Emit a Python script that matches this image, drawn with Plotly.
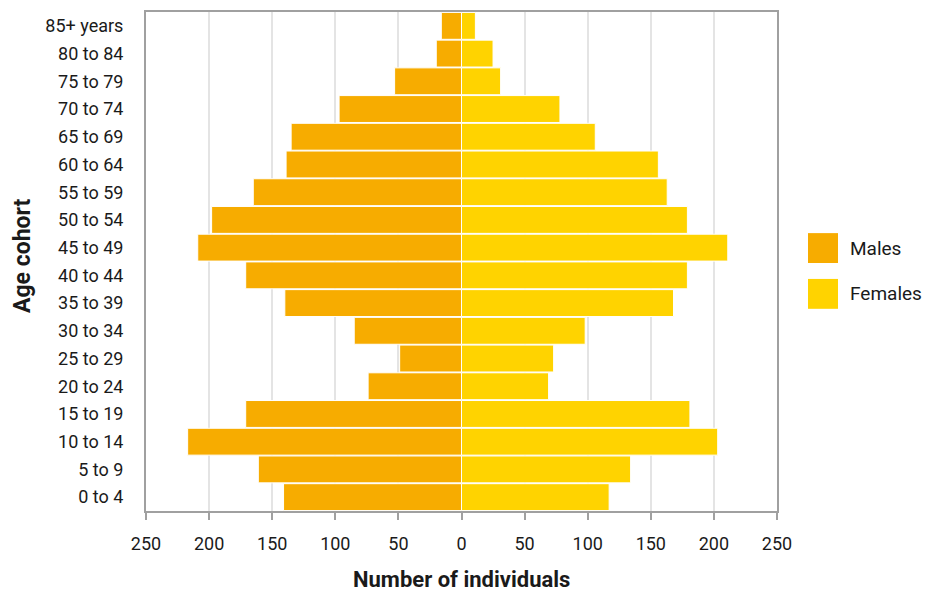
import plotly.graph_objects as go

# Age pyramid: number of individuals by five-year cohort
age_groups = ["0 to 4", "5 to 9", "10 to 14", "15 to 19", "20 to 24", "25 to 29",
              "30 to 34", "35 to 39", "40 to 44", "45 to 49", "50 to 54", "55 to 59",
              "60 to 64", "65 to 69", "70 to 74", "75 to 79", "80 to 84", "85+ years"]
males = [141, 161, 217, 171, 74, 49, 85, 140, 171, 209, 198, 165, 139, 135, 97, 53, 20, 16]
females = [117, 134, 203, 181, 69, 73, 98, 168, 179, 211, 179, 163, 156, 106, 78, 31, 25, 11]

tick_values = [-250, -200, -150, -100, -50, 0, 50, 100, 150, 200, 250]
tick_labels = ["250", "200", "150", "100", "50", "0", "50", "100", "150", "200", "250"]

MALE_COLOR = "#F7AC00"
FEMALE_COLOR = "#FFD300"
AXIS_COLOR = "#A0A0A0"
GRID_COLOR = "#E4E4E4"
FONT = "Roboto, Liberation Sans, sans-serif"
TEXT_COLOR = "#1a1a1a"

# plot area in pixels: left 146, right 777, top 10, bottom 511
PL, PR, PT, PB = 146, 777, 10, 511
PW, PH = PR - PL, PB - PT

fig = go.Figure()
fig.add_trace(go.Bar(
    y=age_groups, x=[-v for v in males], orientation="h", name="Males",
    marker=dict(color=MALE_COLOR, line=dict(color="white", width=1)),
    customdata=males, hovertemplate="%{y}: %{customdata}<extra>Males</extra>",
))
fig.add_trace(go.Bar(
    y=age_groups, x=females, orientation="h", name="Females",
    marker=dict(color=FEMALE_COLOR, line=dict(color="white", width=1)),
    hovertemplate="%{y}: %{x}<extra>Females</extra>",
))

fig.update_layout(
    width=925, height=596,
    margin=dict(l=PL, r=925 - PR, t=PT, b=596 - PB),
    barmode="relative", bargap=0.03,
    plot_bgcolor="white", paper_bgcolor="white",
    showlegend=False,
    font=dict(family=FONT, size=18, color=TEXT_COLOR),
    xaxis=dict(
        range=[-250, 250], tickvals=tick_values, ticktext=tick_labels,
        showgrid=True, gridcolor=GRID_COLOR, gridwidth=1.5, zeroline=False,
        showline=True, linecolor=AXIS_COLOR, linewidth=2, mirror=True,
        ticks="outside", ticklen=7, tickcolor=AXIS_COLOR, tickwidth=2,
        ticklabelstandoff=8,
    ),
    yaxis=dict(
        range=[-0.5, 17.5], showgrid=False, zeroline=False,
        showline=True, linecolor=AXIS_COLOR, linewidth=2, mirror=True,
        ticks="", ticklabelstandoff=17,
    ),
)

# Axis titles
fig.add_annotation(text="<b>Number of individuals</b>", xref="paper", yref="paper",
                   x=(461 - PL) / PW, y=(PB - 580) / PH, yanchor="middle", showarrow=False,
                   font=dict(size=22, family=FONT, color=TEXT_COLOR))
fig.add_annotation(text="<b>Age cohort</b>", xref="paper", yref="paper",
                   x=(22 - PL) / PW, xanchor="center", y=(PB - 255) / PH, yanchor="middle",
                   textangle=-90, showarrow=False,
                   font=dict(size=23, family=FONT, color=TEXT_COLOR))

# Legend swatches and labels
legend_items = [("Males", MALE_COLOR, 247), ("Females", FEMALE_COLOR, 293)]
for label, color, cy in legend_items:
    fig.add_shape(type="rect", xref="paper", yref="paper",
                  x0=(808 - PL) / PW, x1=(838 - PL) / PW,
                  y0=(PB - (cy + 15)) / PH, y1=(PB - (cy - 15)) / PH,
                  fillcolor=color, line=dict(width=0))
    fig.add_annotation(text=label, xref="paper", yref="paper",
                       x=(848 - PL) / PW, xanchor="left",
                       y=(PB - cy) / PH, yanchor="middle", showarrow=False,
                       font=dict(size=19, family=FONT, color=TEXT_COLOR))

fig.write_html("out.html")
